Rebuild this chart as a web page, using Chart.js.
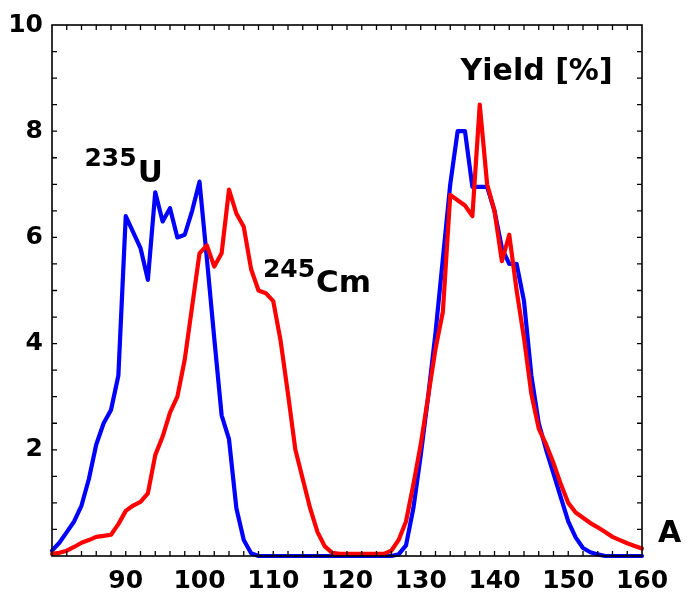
<!DOCTYPE html>
<html>
<head>
<meta charset="utf-8">
<script src="https://cdn.jsdelivr.net/npm/chart.js@4/dist/chart.umd.min.js"></script>
<style>
  html, body { margin: 0; padding: 0; background: #ffffff; }
  #wrap { width: 687px; height: 592px; position: relative; }
</style>
</head>
<body>
<div id="wrap"><canvas id="c" width="687" height="592"></canvas></div>
<script>
// Mass numbers A
const massNumbers = [80,81,82,83,84,85,86,87,88,89,90,91,92,93,94,95,96,97,98,99,
  100,101,102,103,104,105,106,107,108,109,110,111,112,113,114,115,116,117,118,119,
  120,121,122,123,124,125,126,127,128,129,130,131,132,133,134,135,136,137,138,139,
  140,141,142,143,144,145,146,147,148,149,150,151,152,153,154,155,156,157,158,159,160];

// 235U fission yield [%]
const yieldU235 = [0.10,0.25,0.45,0.65,0.95,1.45,2.10,2.50,2.75,3.40,
  6.40,6.10,5.80,5.20,6.85,6.30,6.55,6.00,6.05,6.50,
  7.05,5.60,4.10,2.65,2.20,0.90,0.30,0.05,0,0,
  0,0,0,0,0,0,0,0,0,0,
  0,0,0,0,0,0,0,0.03,0.20,0.90,
  1.90,3.00,4.20,5.60,7.00,8.00,8.00,6.95,6.95,6.95,
  6.50,5.80,5.50,5.50,4.80,3.40,2.50,2.00,1.55,1.10,
  0.65,0.35,0.15,0.07,0.03,0,0,0,0,0,0];

// 245Cm fission yield [%]
const yieldCm245 = [0.04,0.06,0.10,0.17,0.25,0.30,0.36,0.38,0.40,0.60,
  0.85,0.95,1.02,1.18,1.90,2.25,2.70,3.00,3.70,4.70,
  5.70,5.85,5.45,5.70,6.90,6.45,6.20,5.40,5.00,4.95,
  4.80,4.05,3.05,2.00,1.45,0.90,0.45,0.18,0.06,0.04,
  0.04,0.04,0.04,0.04,0.04,0.04,0.10,0.30,0.65,1.35,
  2.10,3.00,3.90,4.60,6.80,6.70,6.60,6.40,8.50,7.00,
  6.50,5.55,6.05,5.00,4.10,3.05,2.40,2.10,1.75,1.35,
  1.00,0.82,0.72,0.62,0.54,0.45,0.36,0.30,0.24,0.19,0.14];

const xTickValues = [90,100,110,120,130,140,150,160];
const yTickValues = [2,4,6,8,10];

const FONT = '"DejaVu Sans", sans-serif';

const framePlugin = {
  id: 'frame',
  afterDatasetsDraw(chart) {
    const ctx = chart.ctx;
    const a = chart.chartArea;
    const xs = chart.scales.x, ys = chart.scales.y;
    ctx.save();
    ctx.strokeStyle = '#000';
    ctx.lineWidth = 1.6;
    ctx.strokeRect(a.left, a.top, a.right - a.left, a.bottom - a.top);
    ctx.lineWidth = 1.3;
    ctx.beginPath();
    const tl = 5;
    for (let v = 82; v < 160; v += 2) {
      const px = xs.getPixelForValue(v);
      ctx.moveTo(px, a.bottom); ctx.lineTo(px, a.bottom - tl);
      ctx.moveTo(px, a.top); ctx.lineTo(px, a.top + tl);
    }
    for (let v = 0.5; v < 10; v += 0.5) {
      const py = ys.getPixelForValue(v);
      ctx.moveTo(a.left, py); ctx.lineTo(a.left + tl, py);
      ctx.moveTo(a.right, py); ctx.lineTo(a.right - tl, py);
    }
    ctx.stroke();

    // annotations
    ctx.fillStyle = '#000';
    ctx.textBaseline = 'alphabetic';
    ctx.textAlign = 'left';
    function iso(sup, sym, xv, yv, supSize, symSize, drop) {
      const x = xs.getPixelForValue(xv);
      const y = ys.getPixelForValue(yv);
      ctx.font = 'bold ' + supSize + 'px ' + FONT;
      ctx.fillText(sup, x, y);
      const w = ctx.measureText(sup).width;
      ctx.font = 'bold ' + symSize + 'px ' + FONT;
      ctx.fillText(sym, x + w + 1, y + drop);
    }
    iso('235', 'U', 84.4, 7.34, 25, 31, 16);
    iso('245', 'Cm', 108.6, 5.26, 25, 31, 15);

    ctx.font = 'bold 30px ' + FONT;
    ctx.fillText('Yield [%]', xs.getPixelForValue(135.4), ys.getPixelForValue(8.97));
    ctx.fillText('A', a.right + 16, a.bottom - 14);
    ctx.restore();
  }
};

const lineStyle = {
  borderWidth: 4.2,
  pointRadius: 0,
  tension: 0,
  fill: false,
  borderJoinStyle: 'round',
  borderCapStyle: 'round',
  clip: false
};

new Chart(document.getElementById('c'), {
  type: 'line',
  data: {
    datasets: [
      Object.assign({
        label: '245Cm',
        data: massNumbers.map((m, i) => ({ x: m, y: yieldCm245[i] })),
        borderColor: '#ff0000',
        order: 0
      }, lineStyle),
      Object.assign({
        label: '235U',
        data: massNumbers.map((m, i) => ({ x: m, y: yieldU235[i] })),
        borderColor: '#0000ff',
        order: 1
      }, lineStyle)
    ]
  },
  options: {
    responsive: false,
    animation: false,
    layout: { padding: { top: 25, right: 45, left: 0, bottom: 0 } },
    plugins: { legend: { display: false }, tooltip: { enabled: false } },
    scales: {
      x: {
        type: 'linear',
        min: 80, max: 160,
        grid: { display: false, drawTicks: false },
        border: { display: false },
        afterBuildTicks(scale) { scale.ticks = xTickValues.map(v => ({ value: v })); },
        afterFit(scale) { scale.height = 36; },
        ticks: {
          color: '#000',
          padding: 10,
          maxRotation: 0,
          autoSkip: false,
          font: { family: FONT, size: 25, weight: 'bold' },
          callback: v => String(v)
        }
      },
      y: {
        type: 'linear',
        min: 0, max: 10,
        grid: { display: false, drawTicks: false },
        border: { display: false },
        afterBuildTicks(scale) { scale.ticks = yTickValues.map(v => ({ value: v })); },
        afterFit(scale) { scale.width = 52; },
        ticks: {
          color: '#000',
          padding: 9,
          autoSkip: false,
          font: { family: FONT, size: 25, weight: 'bold' },
          callback: v => String(v)
        }
      }
    }
  },
  plugins: [framePlugin]
});
</script>
</body>
</html>
